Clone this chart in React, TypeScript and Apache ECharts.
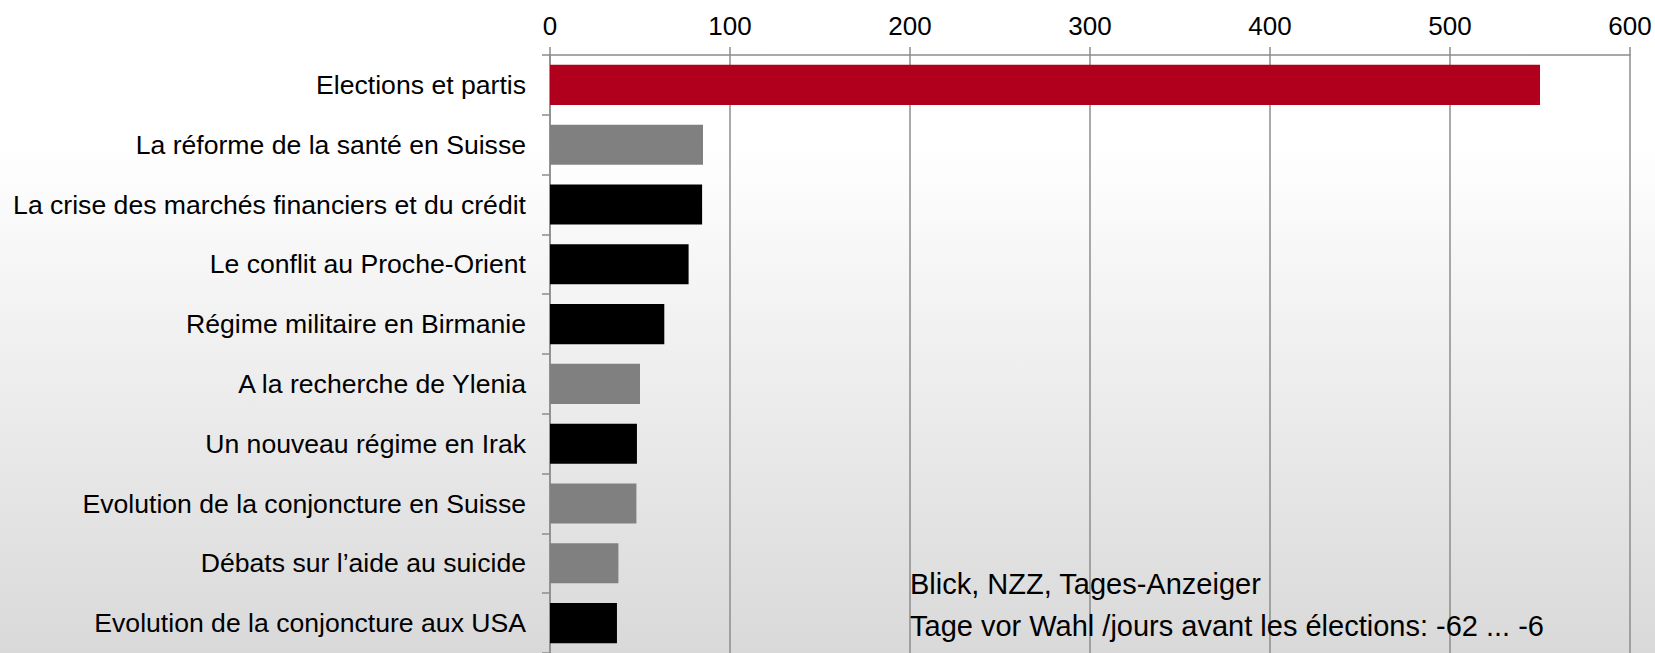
import React, { useEffect, useRef } from "react";
import * as echarts from "echarts";

const categories = [
  "Elections et partis",
  "La réforme de la santé en Suisse",
  "La crise des marchés financiers et du crédit",
  "Le conflit au Proche-Orient",
  "Régime militaire en Birmanie",
  "A la recherche de Ylenia",
  "Un nouveau régime en Irak",
  "Evolution de la conjoncture en Suisse",
  "Débats sur l’aide au suicide",
  "Evolution de la conjoncture aux USA",
];

const values = [550, 85, 84.5, 77, 63.5, 50, 48.3, 48, 38, 37.2];

// group of each topic: highlight / domestic (Swiss) / foreign
const groups = [
  "highlight",
  "domestic",
  "foreign",
  "foreign",
  "foreign",
  "domestic",
  "foreign",
  "domestic",
  "domestic",
  "foreign",
];

const xTicks = [0, 100, 200, 300, 400, 500, 600];

const noteLines = [
  "Blick, NZZ, Tages-Anzeiger",
  "Tage vor Wahl /jours avant les élections: -62 ... -6",
];

const groupColors: Record<string, string> = {
  highlight: "#b0001e",
  domestic: "#808080",
  foreign: "#000000",
};

const FONT = "'Liberation Sans', Arial, sans-serif";

export default function App() {
  const ref = useRef<HTMLDivElement>(null);

  useEffect(() => {
    document.body.style.margin = "0";
    if (!ref.current) return;
    const chart = echarts.init(ref.current, undefined, { renderer: "svg" });
    const gridColor = "#8c8c8c";
    chart.setOption({
      animation: false,
      backgroundColor: {
        type: "linear",
        x: 0,
        y: 0,
        x2: 0,
        y2: 1,
        colorStops: [
          { offset: 0, color: "#ffffff" },
          { offset: 0.22, color: "#ffffff" },
          { offset: 1, color: "#d9d9d9" },
        ],
      },
      grid: { left: 550, right: 25, top: 55, height: 602, containLabel: false },
      xAxis: {
        type: "value",
        position: "top",
        min: xTicks[0],
        max: xTicks[xTicks.length - 1],
        interval: xTicks[1] - xTicks[0],
        axisLine: { show: true, lineStyle: { color: gridColor, width: 1.5 } },
        axisTick: { show: true, length: 8, lineStyle: { color: gridColor, width: 1.5 } },
        splitLine: { show: true, lineStyle: { color: gridColor, width: 1.5 } },
        axisLabel: {
          color: "#000",
          fontSize: 26,
          fontFamily: FONT,
          margin: 16,
        },
      },
      yAxis: {
        type: "category",
        inverse: true,
        data: categories,
        axisLine: { show: true, lineStyle: { color: gridColor, width: 1.5 } },
        axisTick: { show: true, length: 8, lineStyle: { color: gridColor, width: 1.5 } },
        axisLabel: {
          color: "#000",
          fontSize: 26.6,
          fontFamily: FONT,
          margin: 24,
        },
      },
      series: [
        {
          type: "bar",
          barCategoryGap: "33%",
          data: values.map((v, i) => ({
            value: v,
            itemStyle: { color: groupColors[groups[i]] },
          })),
        },
      ],
      graphic: noteLines.map((t, i) => ({
        type: "text",
        left: 910,
        top: 569 + i * 42,
        style: {
          text: t,
          fill: "#000",
          font: `29px ${FONT}`,
        },
        z: 100,
      })),
    });
    return () => chart.dispose();
  }, []);

  return <div ref={ref} style={{ width: 1655, height: 653 }} />;
}
